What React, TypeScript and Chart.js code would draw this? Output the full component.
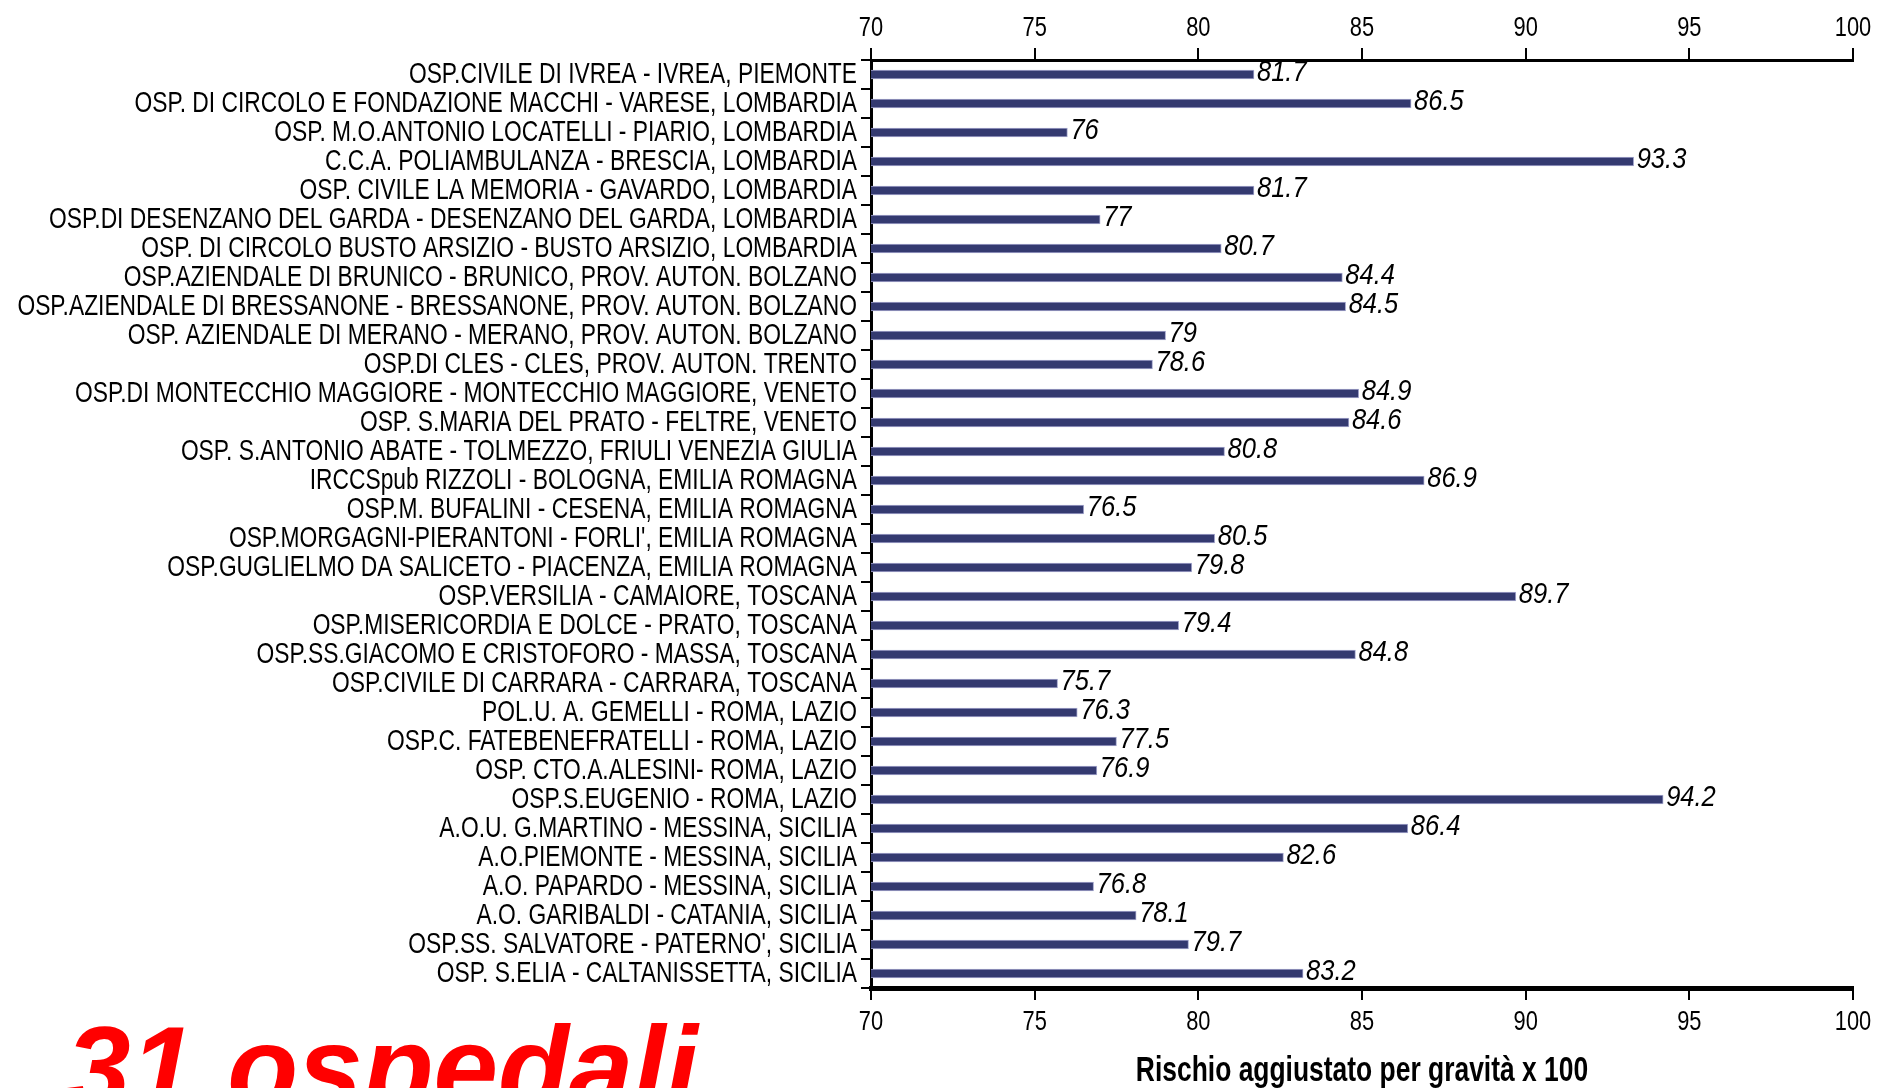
import React, { useEffect, useRef } from 'react';
import { Chart, registerables } from 'chart.js';

Chart.register(...registerables);

const hospitals: string[] = [
  'OSP.CIVILE DI IVREA - IVREA, PIEMONTE',
  'OSP. DI CIRCOLO E FONDAZIONE MACCHI - VARESE, LOMBARDIA',
  'OSP. M.O.ANTONIO LOCATELLI - PIARIO, LOMBARDIA',
  'C.C.A. POLIAMBULANZA - BRESCIA, LOMBARDIA',
  'OSP. CIVILE LA MEMORIA - GAVARDO, LOMBARDIA',
  'OSP.DI DESENZANO DEL GARDA - DESENZANO DEL GARDA, LOMBARDIA',
  'OSP. DI CIRCOLO BUSTO ARSIZIO - BUSTO ARSIZIO, LOMBARDIA',
  'OSP.AZIENDALE DI BRUNICO - BRUNICO, PROV. AUTON. BOLZANO',
  'OSP.AZIENDALE DI BRESSANONE - BRESSANONE, PROV. AUTON. BOLZANO',
  'OSP. AZIENDALE DI MERANO - MERANO, PROV. AUTON. BOLZANO',
  'OSP.DI CLES - CLES, PROV. AUTON. TRENTO',
  'OSP.DI MONTECCHIO MAGGIORE - MONTECCHIO MAGGIORE, VENETO',
  'OSP. S.MARIA DEL PRATO - FELTRE, VENETO',
  'OSP. S.ANTONIO ABATE - TOLMEZZO, FRIULI VENEZIA GIULIA',
  'IRCCSpub RIZZOLI - BOLOGNA, EMILIA ROMAGNA',
  'OSP.M. BUFALINI - CESENA, EMILIA ROMAGNA',
  "OSP.MORGAGNI-PIERANTONI - FORLI', EMILIA ROMAGNA",
  'OSP.GUGLIELMO DA SALICETO - PIACENZA, EMILIA ROMAGNA',
  'OSP.VERSILIA - CAMAIORE, TOSCANA',
  'OSP.MISERICORDIA E DOLCE - PRATO, TOSCANA',
  'OSP.SS.GIACOMO E CRISTOFORO - MASSA, TOSCANA',
  'OSP.CIVILE DI CARRARA - CARRARA, TOSCANA',
  'POL.U. A. GEMELLI - ROMA, LAZIO',
  'OSP.C. FATEBENEFRATELLI - ROMA, LAZIO',
  'OSP. CTO.A.ALESINI- ROMA, LAZIO',
  'OSP.S.EUGENIO - ROMA, LAZIO',
  'A.O.U. G.MARTINO - MESSINA, SICILIA',
  'A.O.PIEMONTE - MESSINA, SICILIA',
  'A.O. PAPARDO - MESSINA, SICILIA',
  'A.O. GARIBALDI - CATANIA, SICILIA',
  "OSP.SS. SALVATORE - PATERNO', SICILIA",
  'OSP. S.ELIA - CALTANISSETTA, SICILIA',
];

const values: number[] = [
  81.7, 86.5, 76, 93.3, 81.7, 77, 80.7, 84.4, 84.5, 79, 78.6, 84.9, 84.6, 80.8,
  86.9, 76.5, 80.5, 79.8, 89.7, 79.4, 84.8, 75.7, 76.3, 77.5, 76.9, 94.2, 86.4,
  82.6, 76.8, 78.1, 79.7, 83.2,
];

const xTicks: number[] = [70, 75, 80, 85, 90, 95, 100];
const axisTitle = 'Rischio aggiustato per gravità x 100';
const caption = '31 ospedali';

const FONT = '"Liberation Sans", Arial, sans-serif';

function drawScaled(
  ctx: CanvasRenderingContext2D,
  text: string,
  x: number,
  y: number,
  sx: number,
  align: CanvasTextAlign,
) {
  ctx.save();
  ctx.translate(x, y);
  ctx.scale(sx, 1);
  ctx.textAlign = align;
  ctx.fillText(text, 0, 0);
  ctx.restore();
}

export default function App() {
  const ref = useRef<HTMLCanvasElement>(null);

  useEffect(() => {
    if (!ref.current) return;
    const textPlugin = {
      id: 'narrowText',
      afterDraw(chart: any) {
        const ctx: CanvasRenderingContext2D = chart.ctx;
        const yScale = chart.scales.y;
        const xScale = chart.scales.x;
        const meta = chart.getDatasetMeta(0);
        ctx.save();
        ctx.fillStyle = '#000';
        ctx.textBaseline = 'middle';

        // category labels
        ctx.font = `30px ${FONT}`;
        hospitals.forEach((h, i) => {
          drawScaled(ctx, h, yScale.right - 14, yScale.getPixelForValue(i), 0.76, 'right');
        });

        // value labels
        ctx.font = `italic 30px ${FONT}`;
        meta.data.forEach((bar: any, i: number) => {
          drawScaled(ctx, String(values[i]), bar.x + 3, bar.y - 2, 0.85, 'left');
        });

        // x tick labels top and bottom
        ctx.font = `28px ${FONT}`;
        xTicks.forEach((v) => {
          const px = xScale.getPixelForValue(v);
          drawScaled(ctx, String(v), px, 28, 0.78, 'center');
          drawScaled(ctx, String(v), px, 1022, 0.78, 'center');
        });

        // axis title
        ctx.font = `bold 35px ${FONT}`;
        drawScaled(ctx, axisTitle, (xScale.left + xScale.right) / 2, 1071, 0.755, 'center');
        ctx.restore();
      },
    };

    const gridCfg = {
      drawOnChartArea: false,
      tickLength: 12,
      color: '#000',
      lineWidth: 2,
    };

    const chart = new Chart(ref.current, {
      type: 'bar',
      data: {
        labels: hospitals,
        datasets: [
          {
            data: values,
            backgroundColor: '#343a70',
            borderColor: '#a4a6cc',
            borderWidth: 1,
            borderSkipped: 'left',
            barThickness: 9,
          },
        ],
      },
      options: {
        indexAxis: 'y',
        animation: false,
        responsive: false,
        maintainAspectRatio: false,
        layout: { padding: { left: 0, right: 24, top: 0, bottom: 0 } },
        plugins: {
          legend: { display: false },
          tooltip: { enabled: false },
        },
        scales: {
          y: {
            type: 'category',
            position: 'left',
            afterFit: (s: any) => {
              s.width = 871;
            },
            grid: {
              drawOnChartArea: false,
              tickLength: 10,
              color: '#000',
              lineWidth: 2,
              offset: true,
            },
            border: { display: true, color: '#000', width: 3 },
            ticks: { display: false, autoSkip: false },
          },
          x: {
            type: 'linear',
            position: 'bottom',
            min: 70,
            max: 100,
            afterFit: (s: any) => {
              s.height = 100;
            },
            afterBuildTicks: (s: any) => {
              s.ticks = xTicks.map((v) => ({ value: v }));
            },
            ticks: { display: false },
            grid: gridCfg,
            border: { display: true, color: '#000', width: 5 },
          },
          x2: {
            type: 'linear',
            axis: 'x',
            position: 'top',
            min: 70,
            max: 100,
            afterFit: (s: any) => {
              s.height = 60;
            },
            afterBuildTicks: (s: any) => {
              s.ticks = xTicks.map((v) => ({ value: v }));
            },
            ticks: { display: false },
            grid: gridCfg,
            border: { display: true, color: '#000', width: 3 },
          },
        },
      } as any,
      plugins: [textPlugin],
    });
    return () => chart.destroy();
  }, []);

  return (
    <div
      style={{
        position: 'fixed',
        left: 0,
        top: 0,
        width: 1877,
        height: 1088,
        overflow: 'hidden',
        background: '#fff',
      }}
    >
      <canvas ref={ref} width={1877} height={1088} style={{ display: 'block' }} />
      <div
        style={{
          position: 'absolute',
          left: 66,
          top: 1010,
          fontFamily: '"Liberation Sans", Arial, sans-serif',
          fontWeight: 'bold',
          fontStyle: 'italic',
          fontSize: 116,
          lineHeight: 1,
          color: '#ff0000',
          whiteSpace: 'nowrap',
        }}
      >
        {caption}
      </div>
    </div>
  );
}
